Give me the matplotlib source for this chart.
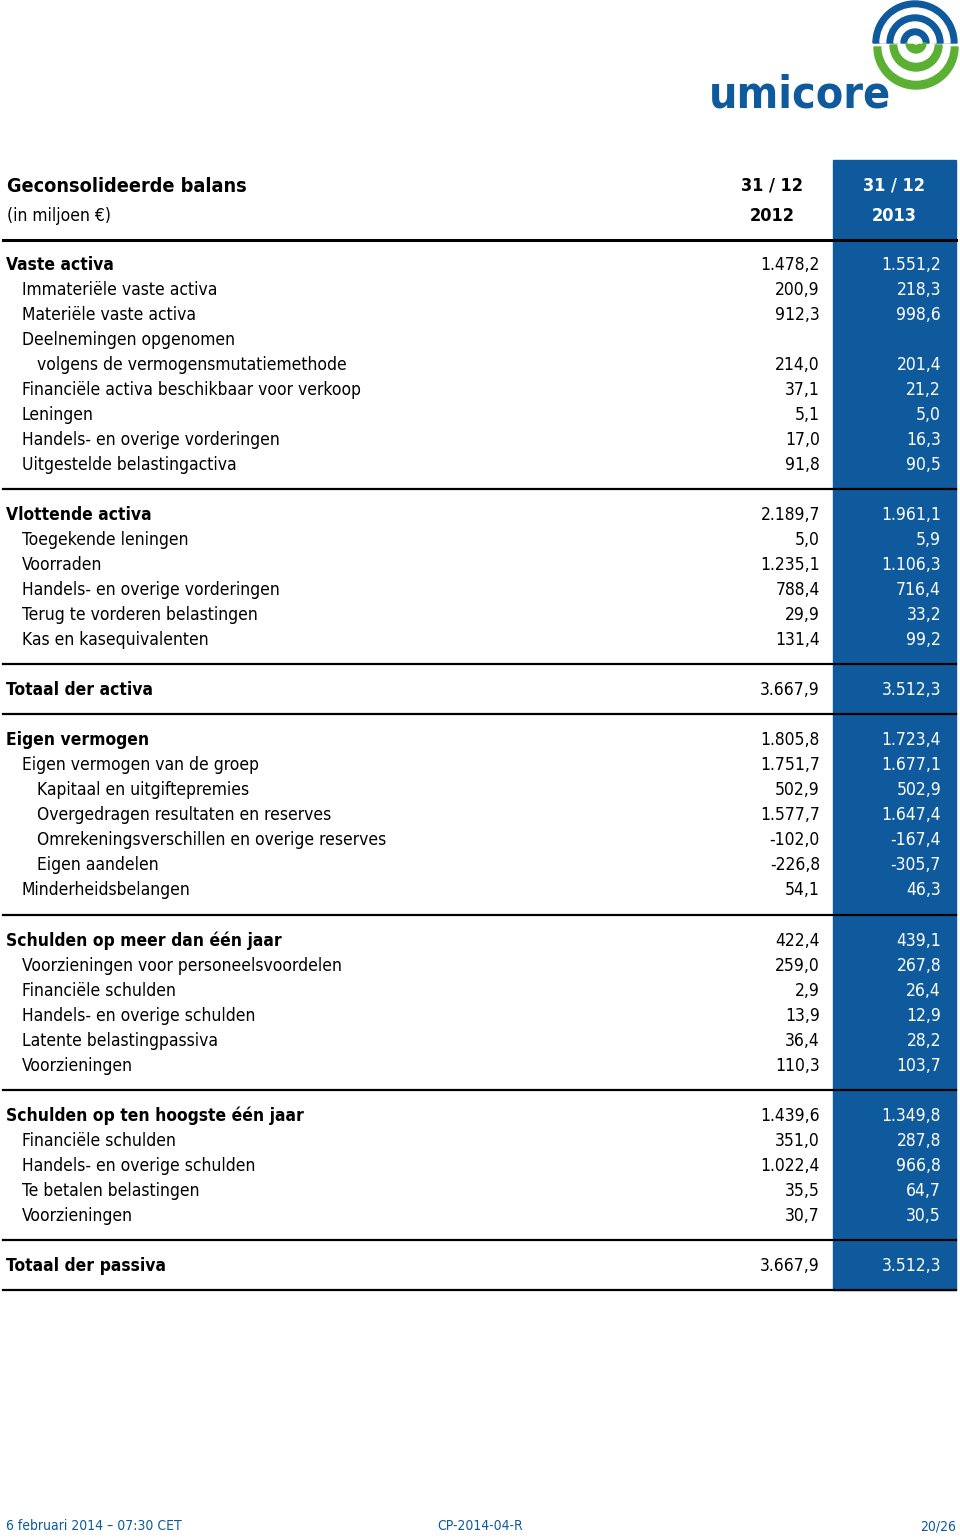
import matplotlib.pyplot as plt
from matplotlib import font_manager
from matplotlib.patches import Rectangle, Wedge

labels = ["Vaste activa", "Immateriële vaste activa", "Materiële vaste activa",
          "Deelnemingen opgenomen", "volgens de vermogensmutatiemethode",
          "Financiële activa beschikbaar voor verkoop", "Leningen",
          "Handels- en overige vorderingen", "Uitgestelde belastingactiva",
          None,
          "Vlottende activa", "Toegekende leningen", "Voorraden",
          "Handels- en overige vorderingen", "Terug te vorderen belastingen",
          "Kas en kasequivalenten",
          None,
          "Totaal der activa",
          None,
          "Eigen vermogen", "Eigen vermogen van de groep", "Kapitaal en uitgiftepremies",
          "Overgedragen resultaten en reserves", "Omrekeningsverschillen en overige reserves",
          "Eigen aandelen", "Minderheidsbelangen",
          None,
          "Schulden op meer dan één jaar", "Voorzieningen voor personeelsvoordelen",
          "Financiële schulden", "Handels- en overige schulden",
          "Latente belastingpassiva", "Voorzieningen",
          None,
          "Schulden op ten hoogste één jaar", "Financiële schulden",
          "Handels- en overige schulden", "Te betalen belastingen", "Voorzieningen",
          None,
          "Totaal der passiva"]
levels = [0, 1, 1, 1, 2, 1, 1, 1, 1, None,
          0, 1, 1, 1, 1, 1, None,
          0, None,
          0, 1, 2, 2, 2, 2, 1, None,
          0, 1, 1, 1, 1, 1, None,
          0, 1, 1, 1, 1, None,
          0]
v2012 = ["1.478,2", "200,9", "912,3", "", "214,0", "37,1", "5,1", "17,0", "91,8", None,
         "2.189,7", "5,0", "1.235,1", "788,4", "29,9", "131,4", None,
         "3.667,9", None,
         "1.805,8", "1.751,7", "502,9", "1.577,7", "-102,0", "-226,8", "54,1", None,
         "422,4", "259,0", "2,9", "13,9", "36,4", "110,3", None,
         "1.439,6", "351,0", "1.022,4", "35,5", "30,7", None,
         "3.667,9"]
v2013 = ["1.551,2", "218,3", "998,6", "", "201,4", "21,2", "5,0", "16,3", "90,5", None,
         "1.961,1", "5,9", "1.106,3", "716,4", "33,2", "99,2", None,
         "3.512,3", None,
         "1.723,4", "1.677,1", "502,9", "1.647,4", "-167,4", "-305,7", "46,3", None,
         "439,1", "267,8", "26,4", "12,9", "28,2", "103,7", None,
         "1.349,8", "287,8", "966,8", "64,7", "30,5", None,
         "3.512,3"]
headers = [("31 / 12", "2012"), ("31 / 12", "2013")]
footer = ["6 februari 2014 – 07:30 CET", "CP-2014-04-R", "20/26"]

BLUE = "#0f5a9c"
GREEN = "#5bb033"

# pick a narrow font if one is there
fonts = font_manager.fontManager.ttflist
names = {f.name for f in fonts}
STRETCH = "normal"
if "Liberation Sans Narrow" in names:
    FONT = ["Liberation Sans Narrow", "DejaVu Sans"]
elif any(f.name == "DejaVu Sans" and f.stretch == "condensed" for f in fonts):
    FONT = ["DejaVu Sans"]
    STRETCH = "condensed"
else:
    FONT = ["Roboto", "DejaVu Sans"]
plt.rcParams["font.family"] = FONT
plt.rcParams["font.stretch"] = STRETCH

fig = plt.figure(figsize=(9.6, 15.38), dpi=100)
ax = fig.add_axes([0, 0, 1, 1])
ax.set_xlim(0, 960)
ax.set_ylim(1538, 0)
ax.axis("off")

# blue column for 2013
ax.add_patch(Rectangle((833, 160), 123, 1130, color=BLUE, zorder=0))

# header
ax.text(7, 186, "Geconsolideerde balans", fontsize=14.2, fontweight="bold", va="center")
ax.text(7, 216, "(in miljoen €)", fontsize=12.5, va="center")
for xc, (h1, h2), col in zip([772, 894], headers, ["black", "white"]):
    ax.text(xc, 186, h1, fontsize=13, fontweight="bold", ha="center", va="center", color=col)
    ax.text(xc, 216, h2, fontsize=13, fontweight="bold", ha="center", va="center", color=col)
ax.plot([3, 956], [239.5, 239.5], color="black", lw=2.2, zorder=3)

# rows
y = 264
step = 25.02
for lab, lev, a, b in zip(labels, levels, v2012, v2013):
    if lab is None:
        ax.plot([3, 956], [y, y], color="black", lw=1.6, zorder=3)
        y += step
        continue
    bold = "bold" if lev == 0 else "normal"
    ax.text(6 + 15.5 * lev, y + 1, lab, fontsize=12.5, fontweight=bold, va="center")
    ax.text(820, y + 1, a, fontsize=12.5, ha="right", va="center")
    ax.text(941, y + 1, b, fontsize=12.5, ha="right", va="center", color="white")
    y += step
ax.plot([3, 956], [y, y], color="black", lw=1.6, zorder=3)

# logo
cx, cy = 915, 45
radii = [42, 35, 28, 21, 14, 7]
for i, r in enumerate(radii):
    c_top = BLUE if i % 2 == 0 else "white"
    c_bot = GREEN if i % 2 == 0 else "white"
    ax.add_patch(Wedge((cx, cy - 2), r, 180, 360, color=c_top, zorder=2))
    ax.add_patch(Wedge((cx + 1, cy + 2 - i), r - i, 0, 180, color=c_bot, zorder=2))
ax.text(709, 107, "umicore", fontsize=32, fontweight="bold", color=BLUE, va="baseline")

# footer
ax.text(6, 1526, footer[0], fontsize=10, color=BLUE, va="center")
ax.text(480, 1526, footer[1], fontsize=10, color=BLUE, va="center", ha="center")
ax.text(956, 1526, footer[2], fontsize=10, color=BLUE, va="center", ha="right")

fig.savefig("out.png", dpi=100)
